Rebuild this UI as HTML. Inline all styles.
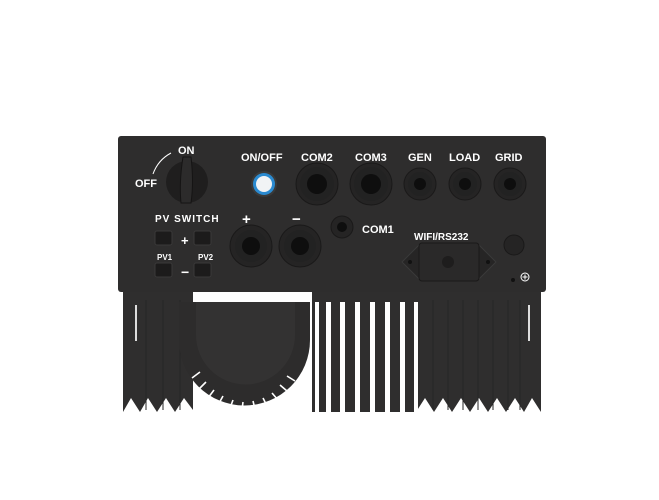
<!DOCTYPE html>
<html><head><meta charset="utf-8"><style>
html,body{margin:0;padding:0;background:#fff;}
svg{display:block}
text{font-family:"Liberation Sans",sans-serif;font-weight:bold;fill:#fff;}
</style></head><body>
<svg width="659" height="500" viewBox="0 0 659 500" xmlns="http://www.w3.org/2000/svg">
<!-- heatsink left block -->
<path d="M123 292 H193 V410 L184 398 L175 412 L166 398 L157 412 L148 398 L140 412 L131 398 L123 412 Z" fill="#2f2e2e"/>
<rect x="135" y="305" width="2" height="36" fill="#ddd"/>
<line x1="146" y1="300" x2="146" y2="410" stroke="#262525"/>
<line x1="163" y1="300" x2="163" y2="410" stroke="#262525"/>
<line x1="180" y1="300" x2="180" y2="410" stroke="#262525"/>
<!-- fan -->
<path d="M179 302 H310 V340 A65 65 0 0 1 179 340 Z" fill="#2d2c2c"/>
<g stroke="#fff" stroke-width="1.6">
<path d="M200 372 L192 378 M206 382 L198 390 M214 390 L208 398 M223 396 L218 405 M233 400 L230 408 M243 402 L242 410 M253 401 L255 409 M263 398 L267 406 M272 393 L278 400 M280 385 L287 391 M287 376 L295 381"/>
</g>
<path d="M196 302 H295 V335 A49 49 0 0 1 196 335 Z" fill="#333232"/>
<!-- right fins -->
<path d="M312 292 H541 V412 L532 398 L524 412 L515 398 L506 412 L497 398 L488 412 L479 398 L470 412 L461 398 L452 412 L443 398 L434 412 L425 398 L416 412 L312 412 Z" fill="#2f2e2e"/>
<g fill="#fff">
<rect x="315" y="302" width="4" height="112"/>
<rect x="326" y="302" width="5" height="112"/>
<rect x="340" y="302" width="5" height="112"/>
<rect x="355" y="302" width="5" height="112"/>
<rect x="370" y="302" width="5" height="112"/>
<rect x="385" y="302" width="5" height="112"/>
<rect x="400" y="302" width="5" height="112"/>
<rect x="414" y="302" width="4" height="112"/>
<rect x="528" y="305" width="2" height="36" fill="#ddd"/>
</g>
<g stroke="#262525"><line x1="433" y1="300" x2="433" y2="410"/><line x1="448" y1="300" x2="448" y2="410"/><line x1="463" y1="300" x2="463" y2="410"/><line x1="478" y1="300" x2="478" y2="410"/><line x1="493" y1="300" x2="493" y2="410"/><line x1="508" y1="300" x2="508" y2="410"/><line x1="520" y1="300" x2="520" y2="410"/></g>
<!-- panel -->
<rect x="118" y="136" width="428" height="156" rx="3" fill="#2e2d2d"/>
<!-- labels -->
<text x="178" y="154" font-size="11">ON</text>
<text x="135" y="187" font-size="11">OFF</text>
<path d="M153 174 Q158 160 171 153" stroke="#fff" fill="none" stroke-width="1"/>
<text x="241" y="161" font-size="11">ON/OFF</text>
<text x="301" y="161" font-size="11">COM2</text>
<text x="355" y="161" font-size="11">COM3</text>
<text x="408" y="161" font-size="11">GEN</text>
<text x="449" y="161" font-size="11">LOAD</text>
<text x="495" y="161" font-size="11">GRID</text>
<text x="155" y="222" font-size="10" letter-spacing="1">PV SWITCH</text>
<text x="242" y="224" font-size="15">+</text>
<text x="292" y="224" font-size="15">−</text>
<text x="362" y="233" font-size="11">COM1</text>
<text x="414" y="240" font-size="10">WIFI/RS232</text>
<text x="157" y="260" font-size="8">PV1</text>
<text x="198" y="260" font-size="8">PV2</text>
<text x="181" y="245" font-size="13">+</text>
<text x="181" y="277" font-size="14">−</text>
<!-- rotary switch -->
<circle cx="187" cy="182" r="21" fill="#1f1e1e"/>
<path d="M183 157 Q179 182 181 203 L191 203 Q194 182 191 157 Z" fill="#2c2b2b" stroke="#151414"/>
<!-- button -->
<circle cx="264" cy="184" r="13" fill="#3a3a3a"/>
<circle cx="264" cy="184" r="11" fill="#2a8ad0"/>
<circle cx="264" cy="184" r="8" fill="#f1f3f5"/>
<!-- glands -->
<g>
<circle cx="317" cy="184" r="21" fill="#252424" stroke="#1a1919"/><circle cx="317" cy="184" r="17" fill="#222"/><circle cx="317" cy="184" r="10" fill="#0e0e0e"/>
<circle cx="371" cy="184" r="21" fill="#252424" stroke="#1a1919"/><circle cx="371" cy="184" r="17" fill="#222"/><circle cx="371" cy="184" r="10" fill="#0e0e0e"/>
<circle cx="420" cy="184" r="16" fill="#252424" stroke="#1a1919"/><circle cx="420" cy="184" r="12" fill="#222"/><circle cx="420" cy="184" r="6" fill="#0e0e0e"/>
<circle cx="465" cy="184" r="16" fill="#252424" stroke="#1a1919"/><circle cx="465" cy="184" r="12" fill="#222"/><circle cx="465" cy="184" r="6" fill="#0e0e0e"/>
<circle cx="510" cy="184" r="16" fill="#252424" stroke="#1a1919"/><circle cx="510" cy="184" r="12" fill="#222"/><circle cx="510" cy="184" r="6" fill="#0e0e0e"/>
<circle cx="251" cy="246" r="21" fill="#252424" stroke="#1a1919"/><circle cx="251" cy="246" r="16" fill="#222"/><circle cx="251" cy="246" r="9" fill="#0e0e0e"/>
<circle cx="300" cy="246" r="21" fill="#252424" stroke="#1a1919"/><circle cx="300" cy="246" r="16" fill="#222"/><circle cx="300" cy="246" r="9" fill="#0e0e0e"/>
<circle cx="342" cy="227" r="11" fill="#252424" stroke="#1a1919"/><circle cx="342" cy="227" r="5" fill="#0e0e0e"/>
</g>
<!-- MC4 connectors -->
<g fill="#1c1b1b" stroke="#3a3939">
<rect x="155" y="231" width="17" height="14" rx="2"/><rect x="194" y="231" width="17" height="14" rx="2"/>
<rect x="155" y="263" width="17" height="14" rx="2"/><rect x="194" y="263" width="17" height="14" rx="2"/>
</g>
<!-- wifi plate -->
<path d="M402 262 L420 244 H478 L496 262 L478 280 H420 Z" fill="#262525" stroke="#3a3939"/>
<rect x="419" y="243" width="60" height="38" rx="3" fill="#2a2929" stroke="#1a1919"/>
<circle cx="448" cy="262" r="6" fill="#1e1d1d"/>
<circle cx="410" cy="262" r="2" fill="#111"/><circle cx="488" cy="262" r="2" fill="#111"/>
<circle cx="514" cy="245" r="10" fill="#252424" stroke="#1a1919"/>
<circle cx="513" cy="280" r="2" fill="#111"/>
<circle cx="525" cy="277" r="4" fill="none" stroke="#fff" stroke-width="1"/>
<path d="M525 274.5 V279.5 M522.5 277 H527.5" stroke="#fff" stroke-width="1"/>
</svg>
</body></html>
